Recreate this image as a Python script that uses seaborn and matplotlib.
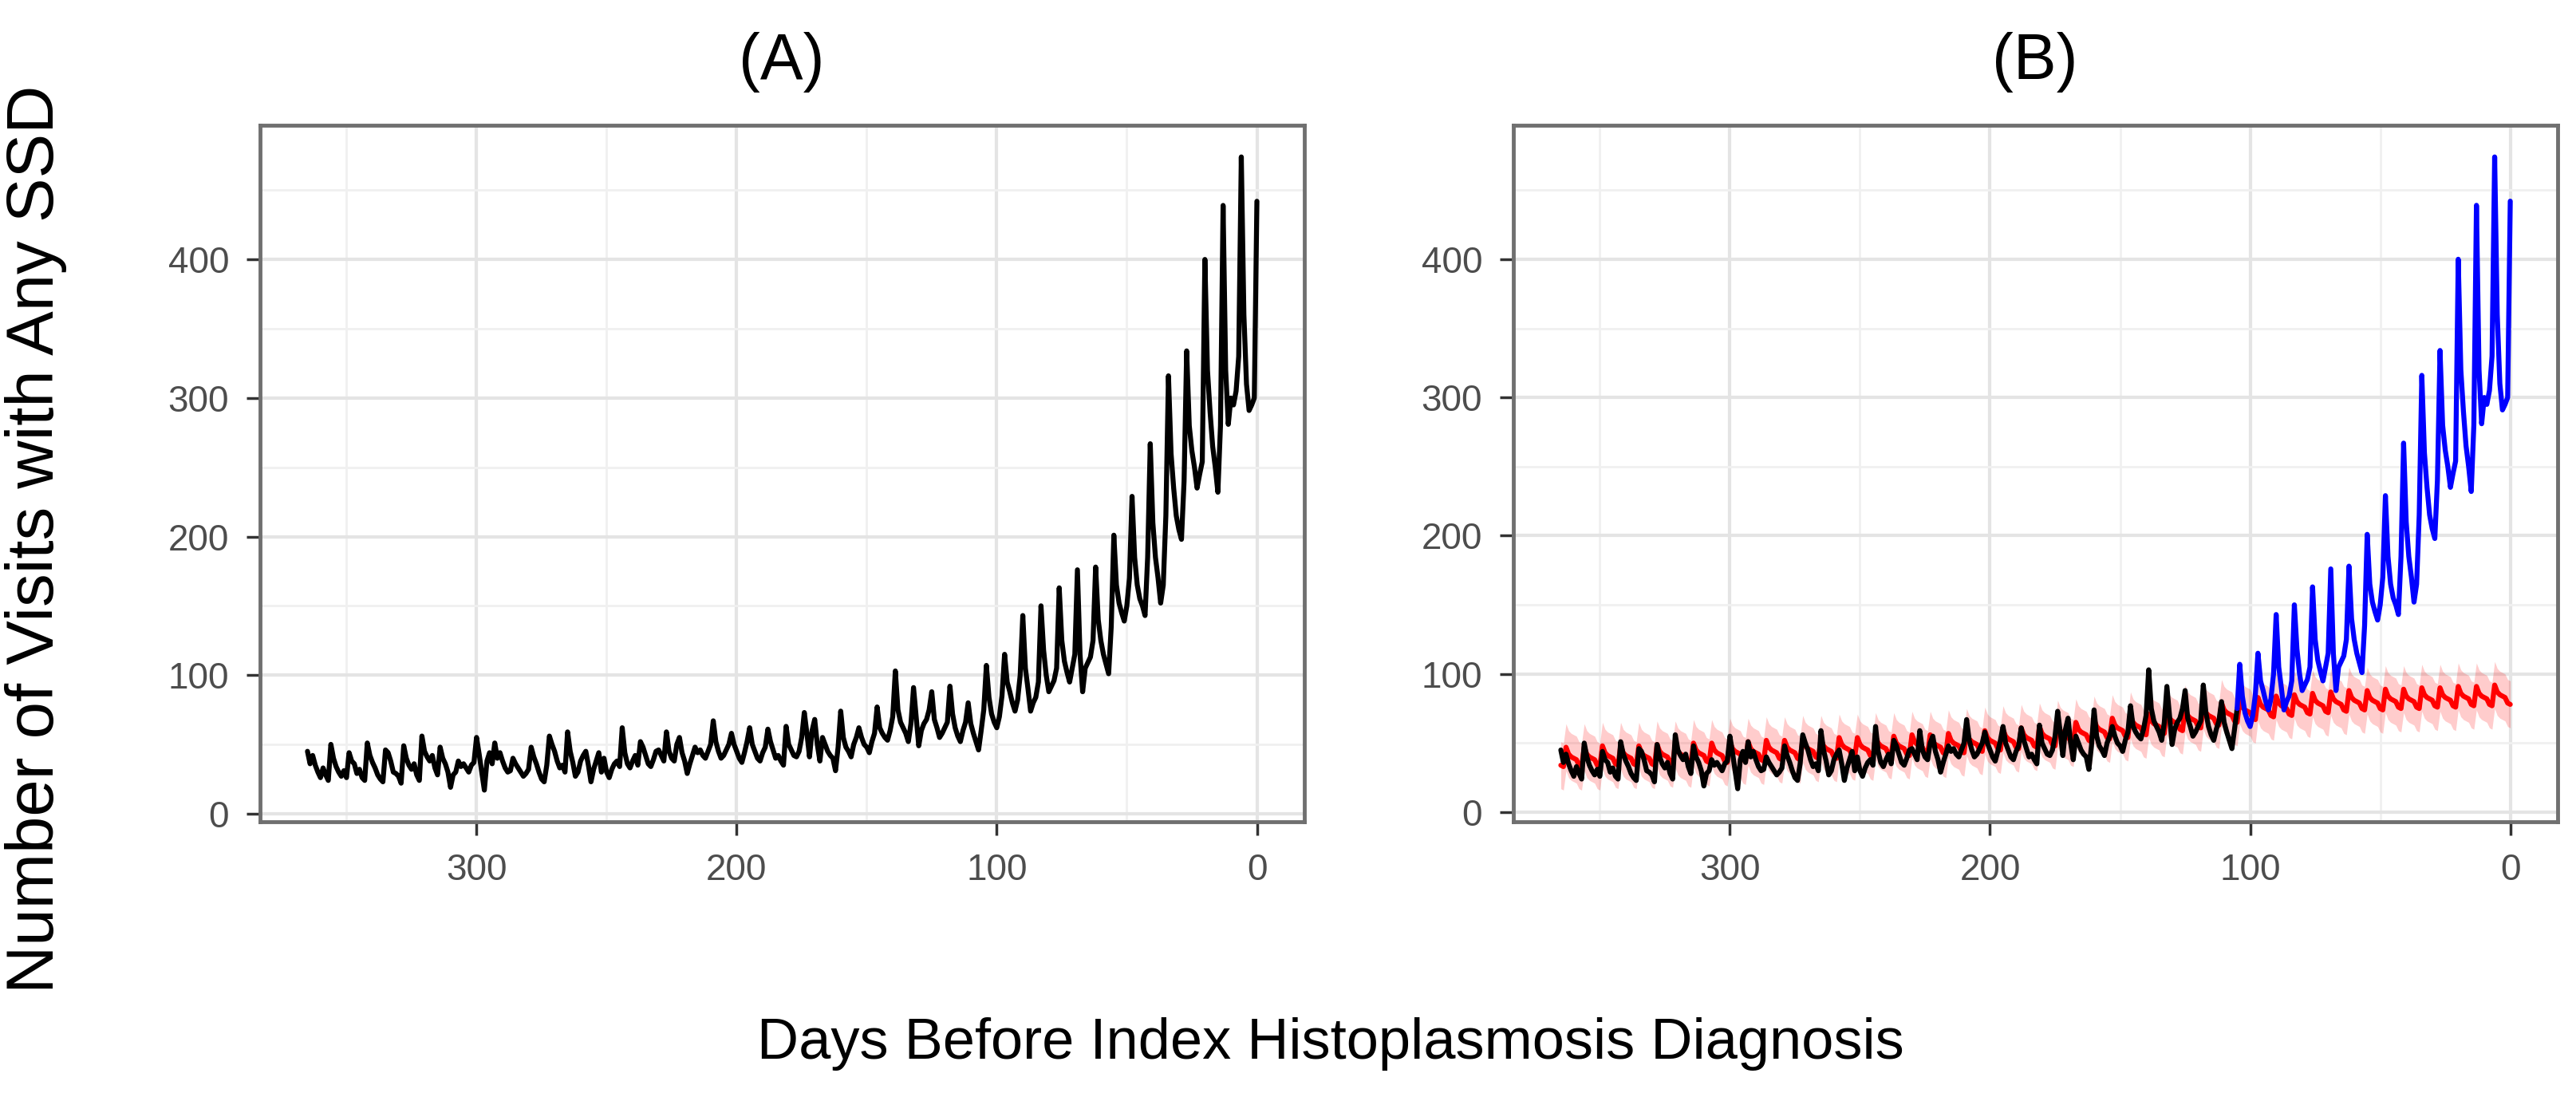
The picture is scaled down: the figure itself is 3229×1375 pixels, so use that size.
import numpy as np
import pandas as pd
import matplotlib
matplotlib.use('Agg')
import matplotlib.pyplot as plt
import seaborn as sns

# days before the index diagnosis, 365 -> 0
days = list(range(365, -1, -1))

# daily number of visits with any SSD, one row per week
visits = [45, 36,
          42, 35, 30, 26, 33, 28, 24,
          50, 40, 34, 30, 27, 31, 26,
          44, 38, 36, 29, 32, 26, 24,
          51, 42, 37, 33, 28, 25, 23,
          46, 44, 38, 30, 29, 27, 22,
          49, 40, 35, 32, 36, 28, 24,
          56, 45, 41, 38, 42, 33, 28,
          48, 40, 36, 30, 19, 28, 30,
          38, 34, 36, 33, 30, 35, 37,
          55, 43, 30, 17, 38, 44, 36,
          51, 40, 44, 38, 33, 30, 31,
          40, 36, 33, 30, 27, 29, 32,
          48, 41, 36, 30, 25, 23, 35,
          56, 50, 45, 38, 33, 35, 30,
          59, 45, 37, 27, 30, 38, 42,
          45, 35, 23, 32, 38, 44, 30,
          40, 30, 26, 32, 36, 38, 34,
          62, 44, 36, 33, 38, 42, 35,
          52, 48, 42, 36, 34, 39, 45,
          46, 42, 38, 59, 45, 40, 38,
          50, 55, 44, 38, 29, 36, 42,
          48, 44, 46, 42, 40, 45, 50,
          67, 52, 45, 40, 42, 46, 50,
          58, 50, 45, 40, 37, 44, 52,
          62, 50, 45, 40, 38, 44, 48,
          61, 52, 46, 40, 42, 38, 35,
          63, 50, 46, 42, 41, 45, 55,
          73, 58, 41, 60, 68, 50, 38,
          55, 50, 45, 42, 40, 31, 48,
          74, 55, 48, 45, 41, 50, 55,
          62, 55, 50, 48, 44, 52, 58,
          77, 62, 58, 55, 53, 60, 70,
          103, 75, 66, 62, 58, 52, 65,
          91, 70, 49, 60, 65, 68, 75,
          88, 68, 62, 55, 58, 62, 66,
          92, 72, 62, 56, 52, 60, 66,
          80, 65, 58, 52, 46, 60, 75,
          107, 84, 72, 66, 62, 70, 85,
          115, 95, 88, 80, 74, 82, 100,
          143, 105, 90, 74, 80, 84, 95,
          150, 118, 100, 88, 92, 96, 105,
          163, 125, 110, 102, 95, 105, 115,
          176, 115, 88, 105, 109, 113, 125,
          178, 140, 125, 115, 108, 101, 135,
          201, 165, 152, 145, 139, 150, 170,
          229, 185, 165, 155, 150, 143, 185,
          267, 210, 185, 170, 152, 165, 215,
          316, 260, 235, 215, 205, 198, 240,
          334, 280, 262, 250, 235, 245, 254,
          400, 320, 290, 265, 250, 232, 280,
          439, 320, 281, 300, 295, 305, 330,
          474, 360, 310, 291, 295, 300, 442]

# expected visits (red line) and its band, panel B
expected = [34, 33,
            47, 42, 40, 39, 38, 34, 33,
            47, 42, 40, 39, 38, 34, 33,
            48, 43, 41, 40, 39, 35, 34,
            48, 43, 41, 40, 39, 35, 34,
            48, 43, 41, 40, 39, 35, 34,
            49, 44, 42, 41, 40, 36, 35,
            49, 44, 42, 41, 40, 36, 35,
            50, 45, 43, 42, 41, 37, 36,
            50, 45, 43, 42, 41, 37, 36,
            51, 46, 44, 43, 42, 38, 37,
            51, 46, 44, 43, 42, 38, 37,
            52, 47, 45, 44, 43, 39, 38,
            52, 47, 45, 44, 43, 39, 38,
            53, 48, 46, 45, 44, 40, 39,
            53, 48, 46, 45, 44, 40, 39,
            54, 49, 47, 46, 45, 41, 40,
            54, 49, 47, 46, 45, 41, 40,
            55, 50, 48, 47, 46, 42, 41,
            55, 50, 48, 47, 46, 42, 41,
            56, 51, 49, 48, 47, 43, 42,
            56, 51, 49, 48, 47, 43, 42,
            57, 52, 50, 49, 48, 44, 43,
            58, 53, 51, 50, 49, 45, 44,
            59, 54, 52, 51, 50, 46, 45,
            60, 55, 53, 52, 51, 47, 46,
            61, 56, 54, 53, 52, 48, 47,
            62, 57, 55, 54, 53, 49, 48,
            64, 59, 57, 56, 55, 51, 50,
            65, 60, 58, 57, 56, 52, 51,
            67, 62, 60, 59, 58, 54, 53,
            68, 63, 61, 60, 59, 55, 54,
            70, 65, 63, 62, 61, 57, 56,
            71, 66, 64, 63, 62, 58, 57,
            73, 68, 66, 65, 64, 60, 59,
            75, 70, 68, 67, 66, 62, 61,
            77, 72, 70, 69, 68, 64, 63,
            79, 74, 72, 71, 70, 66, 65,
            81, 76, 74, 73, 72, 68, 67,
            83, 78, 76, 75, 74, 70, 69,
            84, 79, 77, 76, 75, 71, 70,
            85, 80, 78, 77, 76, 72, 71,
            86, 81, 79, 78, 77, 73, 72,
            87, 82, 80, 79, 78, 74, 73,
            88, 83, 81, 80, 79, 75, 74,
            88, 83, 81, 80, 79, 75, 74,
            89, 84, 82, 81, 80, 76, 75,
            89, 84, 82, 81, 80, 76, 75,
            90, 85, 83, 82, 81, 77, 76,
            90, 85, 83, 82, 81, 77, 76,
            91, 86, 84, 83, 82, 78, 77,
            91, 86, 84, 83, 82, 78, 77,
            92, 87, 85, 84, 83, 79, 78]

expected_lo = [17, 16,
               30, 25, 23, 22, 21, 17, 16,
               30, 25, 23, 22, 21, 17, 16,
               31, 26, 24, 23, 22, 18, 17,
               31, 26, 24, 23, 22, 18, 17,
               31, 26, 24, 23, 22, 18, 17,
               32, 27, 25, 24, 23, 19, 18,
               32, 27, 25, 24, 23, 19, 18,
               33, 28, 26, 25, 24, 20, 19,
               33, 28, 26, 25, 24, 20, 19,
               34, 29, 27, 26, 25, 21, 20,
               34, 29, 27, 26, 25, 21, 20,
               35, 30, 28, 27, 26, 22, 21,
               35, 30, 28, 27, 26, 22, 21,
               36, 31, 29, 28, 27, 23, 22,
               36, 31, 29, 28, 27, 23, 22,
               37, 32, 30, 29, 28, 24, 23,
               37, 32, 30, 29, 28, 24, 23,
               38, 33, 31, 30, 29, 25, 24,
               38, 33, 31, 30, 29, 25, 24,
               39, 34, 32, 31, 30, 26, 25,
               39, 34, 32, 31, 30, 26, 25,
               40, 35, 33, 32, 31, 27, 26,
               41, 36, 34, 33, 32, 28, 27,
               42, 37, 35, 34, 33, 29, 28,
               43, 38, 36, 35, 34, 30, 29,
               44, 39, 37, 36, 35, 31, 30,
               45, 40, 38, 37, 36, 32, 31,
               47, 42, 40, 39, 38, 34, 33,
               48, 43, 41, 40, 39, 35, 34,
               50, 45, 43, 42, 41, 37, 36,
               51, 46, 44, 43, 42, 38, 37,
               53, 48, 46, 45, 44, 40, 39,
               54, 49, 47, 46, 45, 41, 40,
               56, 51, 49, 48, 47, 43, 42,
               58, 53, 51, 50, 49, 45, 44,
               60, 55, 53, 52, 51, 47, 46,
               62, 57, 55, 54, 53, 49, 48,
               64, 59, 57, 56, 55, 51, 50,
               66, 61, 59, 58, 57, 53, 52,
               67, 62, 60, 59, 58, 54, 53,
               68, 63, 61, 60, 59, 55, 54,
               69, 64, 62, 61, 60, 56, 55,
               70, 65, 63, 62, 61, 57, 56,
               71, 66, 64, 63, 62, 58, 57,
               71, 66, 64, 63, 62, 58, 57,
               72, 67, 65, 64, 63, 59, 58,
               72, 67, 65, 64, 63, 59, 58,
               73, 68, 66, 65, 64, 60, 59,
               73, 68, 66, 65, 64, 60, 59,
               74, 69, 67, 66, 65, 61, 60,
               74, 69, 67, 66, 65, 61, 60,
               75, 70, 68, 67, 66, 62, 61]

expected_hi = [51, 50,
               64, 59, 57, 56, 55, 51, 50,
               64, 59, 57, 56, 55, 51, 50,
               65, 60, 58, 57, 56, 52, 51,
               65, 60, 58, 57, 56, 52, 51,
               65, 60, 58, 57, 56, 52, 51,
               66, 61, 59, 58, 57, 53, 52,
               66, 61, 59, 58, 57, 53, 52,
               67, 62, 60, 59, 58, 54, 53,
               67, 62, 60, 59, 58, 54, 53,
               68, 63, 61, 60, 59, 55, 54,
               68, 63, 61, 60, 59, 55, 54,
               69, 64, 62, 61, 60, 56, 55,
               69, 64, 62, 61, 60, 56, 55,
               70, 65, 63, 62, 61, 57, 56,
               70, 65, 63, 62, 61, 57, 56,
               71, 66, 64, 63, 62, 58, 57,
               71, 66, 64, 63, 62, 58, 57,
               72, 67, 65, 64, 63, 59, 58,
               72, 67, 65, 64, 63, 59, 58,
               73, 68, 66, 65, 64, 60, 59,
               73, 68, 66, 65, 64, 60, 59,
               74, 69, 67, 66, 65, 61, 60,
               75, 70, 68, 67, 66, 62, 61,
               76, 71, 69, 68, 67, 63, 62,
               77, 72, 70, 69, 68, 64, 63,
               78, 73, 71, 70, 69, 65, 64,
               79, 74, 72, 71, 70, 66, 65,
               81, 76, 74, 73, 72, 68, 67,
               82, 77, 75, 74, 73, 69, 68,
               84, 79, 77, 76, 75, 71, 70,
               85, 80, 78, 77, 76, 72, 71,
               87, 82, 80, 79, 78, 74, 73,
               88, 83, 81, 80, 79, 75, 74,
               90, 85, 83, 82, 81, 77, 76,
               92, 87, 85, 84, 83, 79, 78,
               94, 89, 87, 86, 85, 81, 80,
               96, 91, 89, 88, 87, 83, 82,
               98, 93, 91, 90, 89, 85, 84,
               100, 95, 93, 92, 91, 87, 86,
               101, 96, 94, 93, 92, 88, 87,
               102, 97, 95, 94, 93, 89, 88,
               103, 98, 96, 95, 94, 90, 89,
               104, 99, 97, 96, 95, 91, 90,
               105, 100, 98, 97, 96, 92, 91,
               105, 100, 98, 97, 96, 92, 91,
               106, 101, 99, 98, 97, 93, 92,
               106, 101, 99, 98, 97, 93, 92,
               107, 102, 100, 99, 98, 94, 93,
               107, 102, 100, 99, 98, 94, 93,
               108, 103, 101, 100, 99, 95, 94,
               108, 103, 101, 100, 99, 95, 94,
               109, 104, 102, 101, 100, 96, 95]

split_day = 105  # black before this day, blue after it (panel B)

assert len(visits) == len(days) == len(expected) == len(expected_lo) == len(expected_hi)

df = pd.DataFrame({'day': days, 'visits': visits, 'expected': expected,
                   'lo': expected_lo, 'hi': expected_hi})

sns.set_theme(style='white')
plt.rcParams['font.family'] = ['Liberation Sans', 'DejaVu Sans']

fig = plt.figure(figsize=(32.3, 13.75), dpi=100)
axA = fig.add_axes([0.1009, 0.2509, 0.4053, 0.6349])
axB = fig.add_axes([0.5873, 0.2509, 0.4053, 0.6349])

lw = 4.5

# panel A
sns.lineplot(data=df, x='day', y='visits', color='black', lw=lw, errorbar=None, ax=axA)

# panel B
axB.fill_between(df['day'], df['lo'], df['hi'], color='#FF0000', alpha=0.2, lw=0)
sns.lineplot(data=df, x='day', y='expected', color='#FF0000', lw=lw, errorbar=None, ax=axB)
sns.lineplot(data=df[df['day'] >= split_day], x='day', y='visits', color='black', lw=lw,
             errorbar=None, ax=axB)
sns.lineplot(data=df[df['day'] <= split_day], x='day', y='visits', color='#0000FF', lw=lw,
             errorbar=None, ax=axB)


def style(ax, ymin, ymax):
    span = ymax - ymin
    ax.set_xlim(365 + 0.05 * 365, -0.05 * 365)
    ax.set_ylim(ymin - 0.05 * span, ymax + 0.05 * span)
    ax.set_xticks([300, 200, 100, 0])
    ax.set_xticks([350, 250, 150, 50], minor=True)
    ax.set_yticks([0, 100, 200, 300, 400])
    ax.set_yticks([50, 150, 250, 350, 450], minor=True)
    ax.grid(which='major', color='#E4E4E4', lw=3)
    ax.grid(which='minor', color='#F0F0F0', lw=2)
    ax.set_axisbelow(True)
    for s in ax.spines.values():
        s.set_color('#707070')
        s.set_linewidth(3.5)
    ax.tick_params(which='major', length=12, width=2.5, color='#333333',
                   labelsize=33, labelcolor='#4D4D4D', pad=16)
    ax.tick_params(which='minor', length=0)
    ax.tick_params(axis='x', bottom=True)
    ax.tick_params(axis='y', left=True)
    ax.set_xlabel('')
    ax.set_ylabel('')


style(axA, min(visits), max(visits))
style(axB, min(min(visits), min(expected_lo)), max(visits))

fig.text(980 / 3230, 1 - 78 / 1375, '(A)', fontsize=58, color='black', ha='center', va='center')
fig.text(2551 / 3230, 1 - 78 / 1375, '(B)', fontsize=58, color='black', ha='center', va='center')
fig.text(45 / 3230, 1 - 676 / 1375, 'Number of Visits with Any SSD', fontsize=60, color='black',
         rotation=90, ha='center', va='center')
fig.text(1668 / 3230, 1 - 1308 / 1375, 'Days Before Index Histoplasmosis Diagnosis',
         fontsize=52, color='black', ha='center', va='center')

fig.savefig('out.png', dpi=100)
